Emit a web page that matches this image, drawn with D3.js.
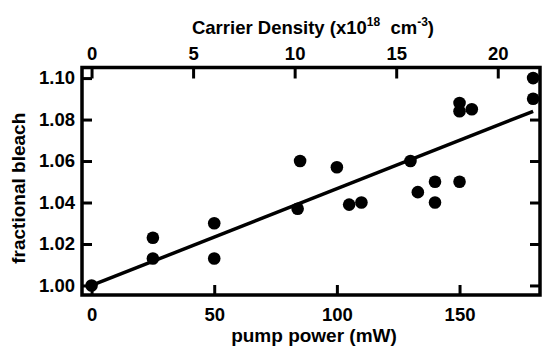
<!DOCTYPE html>
<html>
<head>
<meta charset="utf-8">
<script src="https://cdn.jsdelivr.net/npm/d3@7"></script>
<style>
  body { margin: 0; background: #fff; }
  svg { display: block; font-family: "Liberation Sans", Arial, sans-serif; font-weight: bold; }
</style>
</head>
<body>
<svg id="chart" width="542" height="347"></svg>
<script>
// measured points: pump power (mW) vs fractional bleach
const pumpPower = [0, 25, 25, 50, 50, 84, 85, 100, 105, 110, 130, 133, 140, 140, 150, 150, 150, 155, 180, 180];
const bleach = [1.000, 1.023, 1.013, 1.030, 1.013, 1.037, 1.060, 1.057, 1.039, 1.040, 1.060, 1.045, 1.050, 1.040, 1.050, 1.088, 1.084, 1.085, 1.100, 1.090];

// linear fit, end points
const fitPump = [0, 180];
const fitBleach = [1.000, 1.084];

const pumpTicks = [0, 50, 100, 150];
const densityTicks = [0, 5, 10, 15, 20];
const bleachTicks = [1.00, 1.02, 1.04, 1.06, 1.08, 1.10];

const svg = d3.select("#chart");
const frame = {left: 82, right: 540, top: 67.5, bottom: 295};

const x = d3.scaleLinear().domain([-3.9, 182.8]).range([frame.left, frame.right]);
const xTop = d3.scaleLinear().domain([-0.47, 22.08]).range([frame.left, frame.right]);
const y = d3.scaleLinear().domain([0.9954, 1.1051]).range([frame.bottom, frame.top]);

const fmt2 = d3.format(".2f");

function styleAxis(g) {
  g.select(".domain").remove();
  g.selectAll(".tick line").attr("stroke", "#000").attr("stroke-width", 3);
  g.selectAll(".tick text").attr("fill", "#000").attr("font-size", 18.5).attr("font-weight", "bold")
    .attr("font-family", "'Liberation Sans', Arial, sans-serif");
}

svg.append("g")
  .attr("transform", `translate(0,${frame.bottom})`)
  .call(d3.axisBottom(x).tickValues(pumpTicks).tickSizeInner(-10).tickSizeOuter(0).tickPadding(13))
  .call(styleAxis);

svg.append("g")
  .attr("transform", `translate(0,${frame.top})`)
  .call(d3.axisTop(xTop).tickValues(densityTicks).tickSizeInner(-11).tickSizeOuter(0).tickPadding(8))
  .call(styleAxis);

svg.append("g")
  .attr("transform", `translate(${frame.left},0)`)
  .call(d3.axisLeft(y).tickValues(bleachTicks).tickFormat(fmt2).tickSizeInner(-10).tickSizeOuter(0).tickPadding(7))
  .call(styleAxis);

svg.append("g")
  .attr("transform", `translate(${frame.right},0)`)
  .call(d3.axisRight(y).tickValues(bleachTicks).tickFormat("").tickSizeInner(-10).tickSizeOuter(0))
  .call(styleAxis);

// frame
svg.append("rect")
  .attr("x", frame.left).attr("y", frame.top)
  .attr("width", frame.right - frame.left).attr("height", frame.bottom - frame.top)
  .attr("fill", "none").attr("stroke", "#000").attr("stroke-width", 3.5);

// fit line
svg.append("line")
  .attr("x1", x(fitPump[0])).attr("y1", y(fitBleach[0]))
  .attr("x2", x(fitPump[1])).attr("y2", y(fitBleach[1]))
  .attr("stroke", "#000").attr("stroke-width", 3.5);

// points
svg.append("g")
  .selectAll("circle")
  .data(d3.zip(pumpPower, bleach))
  .join("circle")
  .attr("cx", d => x(d[0]))
  .attr("cy", d => y(d[1]))
  .attr("r", 6.3)
  .attr("fill", "#000");

// axis titles
svg.append("text")
  .attr("x", (frame.left + frame.right) / 2 + 3)
  .attr("y", 342)
  .attr("text-anchor", "middle")
  .attr("font-size", 19)
  .text("pump power (mW)");

svg.append("text")
  .attr("transform", `translate(25,${(frame.top + frame.bottom) / 2 + 7}) rotate(-90)`)
  .attr("text-anchor", "middle")
  .attr("font-size", 19)
  .text("fractional bleach");

const topTitle = svg.append("text")
  .attr("x", 313)
  .attr("y", 34)
  .attr("text-anchor", "middle")
  .attr("font-size", 18.5)
  .style("white-space", "pre");
topTitle.append("tspan").text("Carrier Density (x10");
topTitle.append("tspan").attr("dy", -8).attr("font-size", 12).text("18");
topTitle.append("tspan").attr("dy", 8).text("  cm");
topTitle.append("tspan").attr("dy", -8).attr("font-size", 12).text("-3");
topTitle.append("tspan").attr("dy", 8).text(")");
</script>
</body>
</html>
